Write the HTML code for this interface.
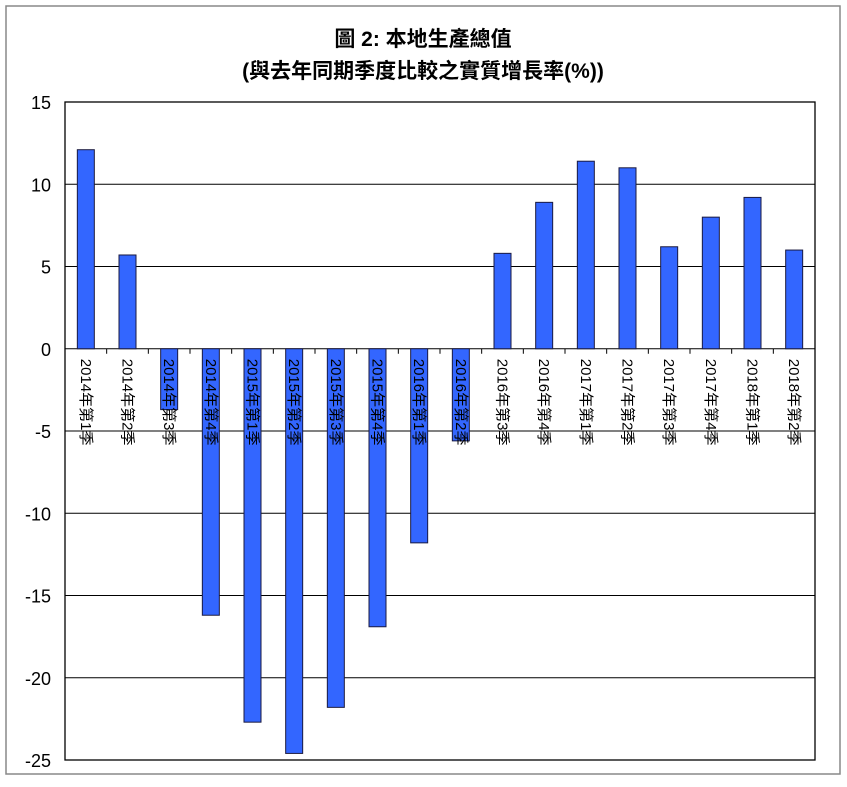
<!DOCTYPE html>
<html><head><meta charset="utf-8"><style>
body{margin:0;background:#fff;}
svg text{font-family:"Liberation Sans","Noto Sans CJK TC",sans-serif;}
</style></head><body>
<svg width="847" height="782" xmlns="http://www.w3.org/2000/svg">
<rect x="6" y="6" width="834" height="768" fill="#fff" stroke="#888" stroke-width="1.5"/>
<text x="423" y="46" text-anchor="middle" font-size="21" font-weight="bold">圖 2: 本地生產總值</text>
<text x="423" y="78" text-anchor="middle" font-size="21" font-weight="bold">(與去年同期季度比較之實質增長率(%))</text>
<g id="plot"></g>
</svg>
<script>
const categories=["2014年第1季","2014年第2季","2014年第3季","2014年第4季","2015年第1季","2015年第2季","2015年第3季","2015年第4季","2016年第1季","2016年第2季","2016年第3季","2016年第4季","2017年第1季","2017年第2季","2017年第3季","2017年第4季","2018年第1季","2018年第2季"];
const values=[12.1,5.7,-3.7,-16.2,-22.7,-24.6,-21.8,-16.9,-11.8,-5.6,5.8,8.9,11.4,11.0,6.2,8.0,9.2,6.0];
const yTicks=[15,10,5,0,-5,-10,-15,-20,-25];
const NS="http://www.w3.org/2000/svg";
const L=65,R=815,T=102,B=760,yMax=15,yMin=-25;
const y=v=>T+(yMax-v)/(yMax-yMin)*(B-T);
const cw=(R-L)/categories.length;
const x=i=>L+cw*(i+0.5);
const g=document.getElementById('plot');
function mk(tag,attrs){const e=document.createElementNS(NS,tag);for(const k in attrs)e.setAttribute(k,attrs[k]);g.appendChild(e);return e;}
mk('rect',{x:L,y:T,width:R-L,height:B-T,fill:'#fff',stroke:'#000','stroke-width':1.3});
yTicks.forEach(t=>{
 const ln=mk('line',{x1:L,x2:R,y1:y(t),y2:y(t),stroke:'#000','stroke-width':1});
 
 
 const tx=mk('text',{x:L-14,y:y(t)+7,'text-anchor':'end','font-size':18});
 tx.textContent=t;
 
 
});
values.forEach((v,i)=>{
 const b=mk('rect',{x:x(i)-8.5,y:Math.min(y(v),y(0)),width:17,height:Math.abs(y(v)-y(0)),fill:'#3366ff',stroke:'#1a1a40','stroke-width':1});
 
 
});
for(let i=0;i<=categories.length;i++){
 const tk=mk('line',{x1:L+cw*i,x2:L+cw*i,y1:y(0),y2:y(0)+5,stroke:'#000','stroke-width':1});
 
 
}
categories.forEach((c,i)=>{
 const t=mk('text',{x:0,y:0,'font-size':15,transform:`translate(${x(i)-5},${y(0)+10}) rotate(90)`});
 t.textContent=c;
 
 
});
</script>
</body></html>
